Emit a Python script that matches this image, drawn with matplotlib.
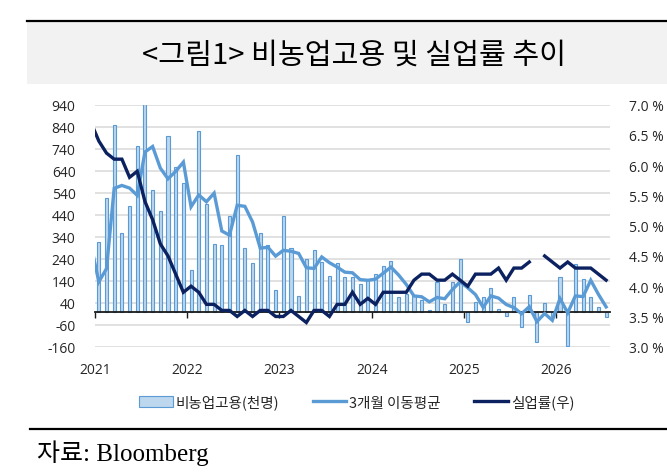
import numpy as np
import matplotlib
matplotlib.use("Agg")
import matplotlib.pyplot as plt
from matplotlib.patches import Rectangle, Patch
from matplotlib.lines import Line2D

# 비농업고용 월별 증감 (천명), 2021-01 ~
nfp = [315, 515, 850, 355, 478, 752, 945, 553, 457, 800, 655, 583,
       189, 819, 489, 307, 302, 433, 713, 289, 220, 355, 302, 99,
       433, 289, 69, 239, 280, 224, 163, 219, 155, 155, 125, 145,
       172, 205, 228, 64, 78, 72, 52, 8, 133, 34, 133, 239,
       -49, 42, 64, 107, 11, -22, 64, -72, 75, -140, 39, -19,
       158, -158, 214, 148, 64, 22, -24]

# 3개월 이동평균, 첫 값은 2020-12
ma3 = [300, 135, 195, 560, 573, 561, 528, 725, 750, 652, 603, 637, 679,
       476, 530, 499, 538, 366, 347, 483, 478, 407, 288, 292, 252,
       278, 274, 264, 199, 196, 248, 222, 202, 179, 176, 145, 142,
       147, 174, 202, 166, 123, 71, 67, 44, 64, 58, 100, 135,
       108, 77, 19, 71, 61, 32, 18, -10, 22, -46, -9, -40,
       59, -6, 71, 68, 142, 78, 21]

# 실업률 (%), 첫 값은 2020-12, 결측은 nan
unemp = [6.7, 6.4, 6.2, 6.1, 6.1, 5.8, 5.9, 5.4, 5.1, 4.7, 4.5, 4.2, 3.9,
         4.0, 3.9, 3.7, 3.7, 3.6, 3.6, 3.5, 3.6, 3.5, 3.6, 3.6, 3.5,
         3.5, 3.6, 3.5, 3.4, 3.6, 3.6, 3.5, 3.7, 3.7, 3.9, 3.7, 3.8,
         3.7, 3.9, 3.9, 3.9, 3.9, 4.1, 4.2, 4.2, 4.1, 4.1, 4.2, 4.1,
         4.0, 4.2, 4.2, 4.2, 4.3, 4.1, 4.3, 4.3, 4.4, np.nan, 4.5, 4.4,
         4.3, 4.4, 4.3, 4.3, 4.3, 4.2, 4.1]

years = ["2021", "2022", "2023", "2024", "2025", "2026"]

col_bar_face = "#BDD7EE"
col_bar_edge = "#5B9BD5"
col_ma = "#5B9BD5"
col_ur = "#0B2160"
txt_col = "#262626"
num_font = "Open Sans"
kr_font = ["Noto Sans CJK KR", "DejaVu Sans"]

fig = plt.figure(figsize=(6.67, 4.77), dpi=100)

# 제목 띠
fig.patches.append(Rectangle((0.04, 0.822), 0.96, 0.132, transform=fig.transFigure,
                             facecolor="#F2F2F2", edgecolor="none", zorder=0))
fig.lines.append(Line2D([0.04, 1.0], [0.953, 0.953], transform=fig.transFigure,
                        color="black", linewidth=1.6))
fig.text(0.531, 0.884, "<그림1> 비농업고용 및 실업률 추이", ha="center", va="center",
         fontsize=21, family=kr_font, color="black")

ax = fig.add_axes([0.1424, 0.271, 0.7721, 0.5074])
ax2 = ax.twinx()

n = len(nfp)
x_bar = np.arange(n) + 0.5
x_line = np.arange(-1, n) + 0.5

ax.bar(x_bar, nfp, width=0.4, color=col_bar_face, edgecolor=col_bar_edge,
       linewidth=0.8, zorder=2)
ax.plot(x_line, ma3, color=col_ma, linewidth=2.4, zorder=3, solid_joinstyle="miter")
ax2.plot(x_line, unemp, color=col_ur, linewidth=2.4, zorder=3, solid_joinstyle="miter")

ax.set_xlim(0, n)
ax.set_ylim(-160, 940)
ax.set_yticks(np.arange(-160, 941, 100))
ax.set_yticklabels([str(v) for v in range(-160, 941, 100)], fontsize=10,
                   family=num_font, color=txt_col)
ax.grid(axis="y", color="#D9D9D9", linewidth=1.1, zorder=0)
ax.set_axisbelow(True)

ax2.set_ylim(3.0, 7.0)
r_ticks = np.arange(3.0, 7.01, 0.5)
ax2.set_yticks(r_ticks)
ax2.set_yticklabels([f"{v:.1f} %" for v in r_ticks], fontsize=10,
                    family=num_font, color=txt_col)

for a in (ax, ax2):
    for s in ("top", "left", "right"):
        a.spines[s].set_visible(False)
ax2.spines["bottom"].set_visible(False)
ax.tick_params(axis="y", length=0, pad=14)
ax2.tick_params(axis="y", length=0, pad=14)

# 가로축: 0 위치에 선, 아래쪽 눈금, 라벨은 맨 아래
ax.spines["bottom"].set_position(("data", 0))
ax.spines["bottom"].set_color("#1a1a1a")
ax.spines["bottom"].set_linewidth(1.3)
ax.set_xticks(np.arange(0, n, 12))
ax.set_xticklabels(years, fontsize=10, family=num_font, color=txt_col)
ax.tick_params(axis="x", direction="out", length=4, width=1, color="#1a1a1a", pad=32)

# 범례
handles = [Patch(facecolor=col_bar_face, edgecolor=col_bar_edge, linewidth=0.8),
           Line2D([], [], color=col_ma, linewidth=2.4),
           Line2D([], [], color=col_ur, linewidth=2.4)]
labels = ["비농업고용(천명)", "3개월 이동평균", "실업률(우)"]
fig.legend(handles, labels, loc="center", bbox_to_anchor=(0.535, 0.155), ncol=3,
           frameon=False, handlelength=2.3, handleheight=0.8, handletextpad=0.2,
           columnspacing=2.3, prop={"family": kr_font, "size": 10.5}, labelcolor=txt_col)

# 하단 출처
fig.lines.append(Line2D([0.045, 1.0], [0.099, 0.099], transform=fig.transFigure,
                        color="black", linewidth=1.6))
fig.text(0.055, 0.05, "자료: Bloomberg", ha="left", va="center", fontsize=18,
         family=["Liberation Serif", "Noto Sans CJK KR"], color="black")

fig.savefig("out.png", dpi=100)
